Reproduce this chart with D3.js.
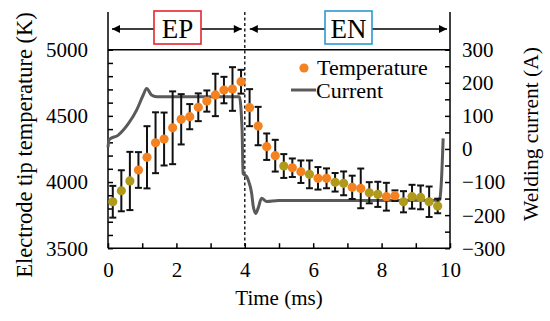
<!DOCTYPE html>
<html>
<head>
<meta charset="utf-8">
<script src="https://cdn.jsdelivr.net/npm/d3@7"></script>
<style>
  body { margin: 0; background: #fff; }
  svg text { font-family: "Liberation Serif", "Times New Roman", serif !important; fill: #000; }
</style>
</head>
<body>
<svg id="chart"></svg>
<script>
// measured temperature points (ms, K) and their error half-widths
var time = [0.14, 0.39, 0.64, 0.89, 1.14, 1.39, 1.64, 1.89, 2.14, 2.39, 2.64, 2.89, 3.14, 3.39, 3.64, 3.89,
  4.14, 4.39, 4.64, 4.89, 5.14, 5.39, 5.64, 5.89, 6.14, 6.39, 6.64, 6.89, 7.14, 7.39, 7.64, 7.89,
  8.14, 8.39, 8.64, 8.89, 9.14, 9.39, 9.64];
var temperature = [3851, 3934, 4008, 4091, 4187, 4297, 4325, 4410, 4474, 4494, 4565, 4612, 4658, 4695, 4703, 4758,
  4562, 4423, 4267, 4199, 4121, 4108, 4078, 4058, 4028, 4028, 3998, 3990, 3960, 3952, 3919, 3907,
  3889, 3897, 3851, 3889, 3884, 3851, 3819];
var tempError = [120, 155, 220, 135, 235, 230, 200, 275, 190, 95, 105, 80, 160, 100, 165, 90,
  140, 145, 100, 120, 90, 70, 85, 105, 85, 75, 70, 90, 88, 150, 80, 95,
  105, 40, 80, 90, 90, 115, 55];

// welding current waveform (ms, A)
var currentTime = [0, 0.03, 0.3, 0.6, 0.84, 1.03, 1.13, 1.27, 1.42, 3.84, 3.92, 3.95, 4.06, 4.10, 4.20, 4.25,
  4.32, 4.39, 4.49, 4.64, 4.98, 9.69, 9.75, 9.80];
var current = [5, 28, 42, 77, 118, 163, 183, 163, 158, 158, 60, -74, -84, -94, -134, -175,
  -195, -179, -149, -159, -156, -155, -95, 32];

var xTicks = [0, 2, 4, 6, 8, 10];
var leftTicks = [3500, 4000, 4500, 5000];
var rightTicks = [-300, -200, -100, 0, 100, 200, 300];

var W = 550, H = 321;
var plot = { left: 108, right: 450, top: 49.7, bottom: 248.2, frameTop: 12 };
var serif = '"Liberation Serif", "Times New Roman", serif';

var svg = d3.select('#chart').attr('width', W).attr('height', H);

var x = d3.scaleLinear().domain([0, 10]).range([plot.left, plot.right]);
var yT = d3.scaleLinear().domain([3500, 5000]).range([plot.bottom, plot.top]);
var yA = d3.scaleLinear().domain([-300, 300]).range([plot.bottom, plot.top]);

// arrow marker
var defs = svg.append('defs');
defs.append('marker')
  .attr('id', 'arrow')
  .attr('viewBox', '0 0 10 10')
  .attr('refX', 10).attr('refY', 5)
  .attr('markerWidth', 9).attr('markerHeight', 8)
  .attr('markerUnits', 'userSpaceOnUse')
  .attr('orient', 'auto')
  .append('path')
  .attr('d', 'M0,0 L10,5 L0,10 Z')
  .attr('fill', '#000');

// frame lines
var frame = svg.append('g').attr('stroke', '#000').attr('stroke-width', 1.5).attr('fill', 'none');
frame.append('line').attr('x1', plot.left).attr('x2', plot.left).attr('y1', plot.frameTop).attr('y2', plot.bottom);
frame.append('line').attr('x1', plot.right).attr('x2', plot.right).attr('y1', plot.frameTop).attr('y2', plot.bottom);
frame.append('line').attr('x1', plot.left).attr('x2', plot.right).attr('y1', plot.top).attr('y2', plot.top);
frame.append('line').attr('x1', plot.left).attr('x2', plot.right).attr('y1', plot.bottom).attr('y2', plot.bottom);

// bottom axis
var xAxis = svg.append('g')
  .attr('transform', 'translate(0,' + plot.bottom + ')')
  .call(d3.axisBottom(x).ticks(10).tickSize(-5).tickPadding(14)
    .tickFormat(function (d) { return xTicks.indexOf(d) >= 0 ? d : ''; }));
// left axis
var lAxis = svg.append('g')
  .attr('transform', 'translate(' + plot.left + ',0)')
  .call(d3.axisLeft(yT).ticks(15).tickSize(-5).tickPadding(20)
    .tickFormat(function (d) { return leftTicks.indexOf(d) >= 0 ? d : ''; }));
// right axis
var rAxis = svg.append('g')
  .attr('transform', 'translate(' + plot.right + ',0)')
  .call(d3.axisRight(yA).tickValues(d3.range(-300, 301, 50)).tickSize(-5).tickPadding(12)
    .tickFormat(function (d) { return rightTicks.indexOf(d) >= 0 ? String(d).replace('-', '\u2212') : ''; }));

[xAxis, lAxis, rAxis].forEach(function (g) {
  g.attr('font-family', serif);
  g.select('.domain').remove();
  g.selectAll('.tick line').attr('stroke', '#000').attr('stroke-width', 1.5);
  g.selectAll('.tick text').attr('font-size', 21).style('font-family', serif).attr('fill', '#000');
});
rAxis.selectAll('.tick text').attr('dy', '0.33em');
lAxis.selectAll('.tick text').attr('dy', '0.33em');

// dashed polarity divider
svg.append('line')
  .attr('x1', x(4)).attr('x2', x(4))
  .attr('y1', plot.frameTop).attr('y2', plot.bottom)
  .attr('stroke', '#000').attr('stroke-width', 1.3).attr('stroke-dasharray', '3,2.5');

// EP / EN labels with arrows
var arrowY = 29;
var segs = [
  { label: 'EP', color: '#e3262c', x0: x(0) + 4, x1: x(4) - 3, box: [154, 201] },
  { label: 'EN', color: '#2a9ad2', x0: x(4) + 5, x1: x(10) - 3, box: [325, 372] }
];
segs.forEach(function (s) {
  svg.append('line').attr('x1', s.box[0]).attr('x2', s.x0).attr('y1', arrowY).attr('y2', arrowY)
    .attr('stroke', '#000').attr('stroke-width', 1.3).attr('marker-end', 'url(#arrow)');
  svg.append('line').attr('x1', s.box[1]).attr('x2', s.x1).attr('y1', arrowY).attr('y2', arrowY)
    .attr('stroke', '#000').attr('stroke-width', 1.3).attr('marker-end', 'url(#arrow)');
  svg.append('rect').attr('x', s.box[0]).attr('y', 11).attr('width', s.box[1] - s.box[0]).attr('height', 33)
    .attr('fill', '#fff').attr('stroke', s.color).attr('stroke-width', 1.6);
  svg.append('text').attr('x', (s.box[0] + s.box[1]) / 2).attr('y', 37.5)
    .attr('text-anchor', 'middle').attr('font-size', 27).style('font-family', serif).text(s.label);
});

// current line
var line = d3.line()
  .curve(d3.curveMonotoneX)
  .x(function (d) { return x(d[0]); })
  .y(function (d) { return yA(d[1]); });
svg.append('path')
  .datum(d3.zip(currentTime, current))
  .attr('fill', 'none')
  .attr('stroke', '#5a5a5a')
  .attr('stroke-width', 3)
  .attr('stroke-linejoin', 'round')
  .attr('d', line);

// error bars
var pts = d3.zip(time, temperature, tempError);
var bars = svg.append('g').attr('stroke', '#111').attr('stroke-width', 2);
pts.forEach(function (p) {
  var cx = x(p[0]), top = yT(p[1] + p[2]), bot = yT(p[1] - p[2]);
  bars.append('line').attr('x1', cx).attr('x2', cx).attr('y1', top).attr('y2', bot);
  bars.append('line').attr('x1', cx - 3.5).attr('x2', cx + 3.5).attr('y1', top).attr('y2', top);
  bars.append('line').attr('x1', cx - 3.5).attr('x2', cx + 3.5).attr('y1', bot).attr('y2', bot);
});

// temperature points (some appear olive in the source image)
var oliveIdx = [0, 1, 2, 20, 23, 26, 27, 30, 31, 34, 35, 36, 37, 38];
svg.append('g').selectAll('circle')
  .data(pts)
  .join('circle')
  .attr('cx', function (d) { return x(d[0]); })
  .attr('cy', function (d) { return yT(d[1]); })
  .attr('r', 4.6)
  .attr('fill', function (d, i) { return oliveIdx.indexOf(i) >= 0 ? '#b09a1c' : '#f58220'; });

// legend
var leg = svg.append('g');
leg.append('circle').attr('cx', 304).attr('cy', 68).attr('r', 4.6).attr('fill', '#f58220');
leg.append('text').attr('x', 317).attr('y', 75).attr('font-size', 22).style('font-family', serif).text('Temperature');
leg.append('line').attr('x1', 291).attr('x2', 316).attr('y1', 90).attr('y2', 90)
  .attr('stroke', '#5a5a5a').attr('stroke-width', 3);
leg.append('text').attr('x', 316).attr('y', 97.5).attr('font-size', 22).style('font-family', serif).text('Current');

// axis titles
svg.append('text').attr('x', (plot.left + plot.right) / 2).attr('y', 305)
  .attr('text-anchor', 'middle').attr('font-size', 21).style('font-family', serif).text('Time (ms)');
svg.append('text').attr('transform', 'translate(32,145) rotate(-90)')
  .attr('text-anchor', 'middle').attr('font-size', 22.5).style('font-family', serif).text('Electrode tip temperature (K)');
svg.append('text').attr('transform', 'translate(538,134) rotate(-90)')
  .attr('text-anchor', 'middle').attr('font-size', 21.5).style('font-family', serif).text('Welding current (A)');
</script>
</body>
</html>
